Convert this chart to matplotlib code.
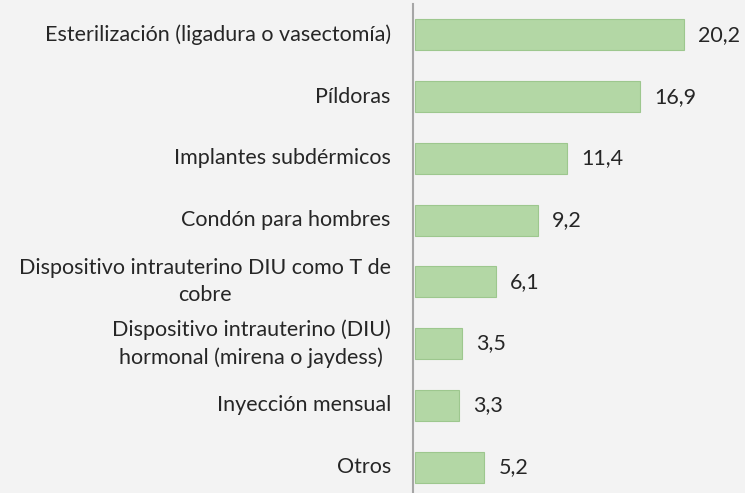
import matplotlib
matplotlib.use("Agg")
import matplotlib.pyplot as plt

categories = [
    "Esterilización (ligadura o vasectomía)",
    "Píldoras",
    "Implantes subdérmicos",
    "Condón para hombres",
    "Dispositivo intrauterino DIU como T de\ncobre",
    "Dispositivo intrauterino (DIU)\nhormonal (mirena o jaydess)",
    "Inyección mensual",
    "Otros",
]
values = [20.2, 16.9, 11.4, 9.2, 6.1, 3.5, 3.3, 5.2]

plt.rcParams["font.family"] = ["Lato", "DejaVu Sans"]

W, H = 745, 493
fig = plt.figure(figsize=(W / 100, H / 100), dpi=100)
fig.patch.set_facecolor("#f3f3f3")
ax = fig.add_axes([413 / W, 0, 1 - 413 / W, 1 - 4 / H])
ax.set_facecolor("none")

pos = list(range(len(categories)))
ax.barh(pos, values, height=0.5, left=0.15, color="#b3d7a5",
        edgecolor="#9dc78e", linewidth=0.8)

for y, v in zip(pos, values):
    ax.text(v + 0.15 + 1.05, y, f"{v:.1f}".replace(".", ","),
            va="center", ha="left", fontsize=15.5, color="#262626")

# category names drawn by hand so wrapped lines can be centred
lab_tr = ax.get_yaxis_transform()
for y, name in zip(pos, categories):
    ax.annotate(name, xy=(0, y), xycoords=lab_tr, xytext=(-16, 0),
                textcoords="offset points", ha="right", va="center",
                multialignment="center", linespacing=1.45,
                fontsize=15.5, color="#262626", annotation_clip=False)

ax.set_xlim(0, 24.9)
ax.set_ylim(7.42, -0.5)
ax.set_yticks([])
ax.set_xticks([])
for side in ["top", "right", "bottom"]:
    ax.spines[side].set_visible(False)
ax.spines["left"].set_color("#a6a6a6")
ax.spines["left"].set_linewidth(1.5)

fig.savefig("out.png", dpi=100, facecolor=fig.get_facecolor())
